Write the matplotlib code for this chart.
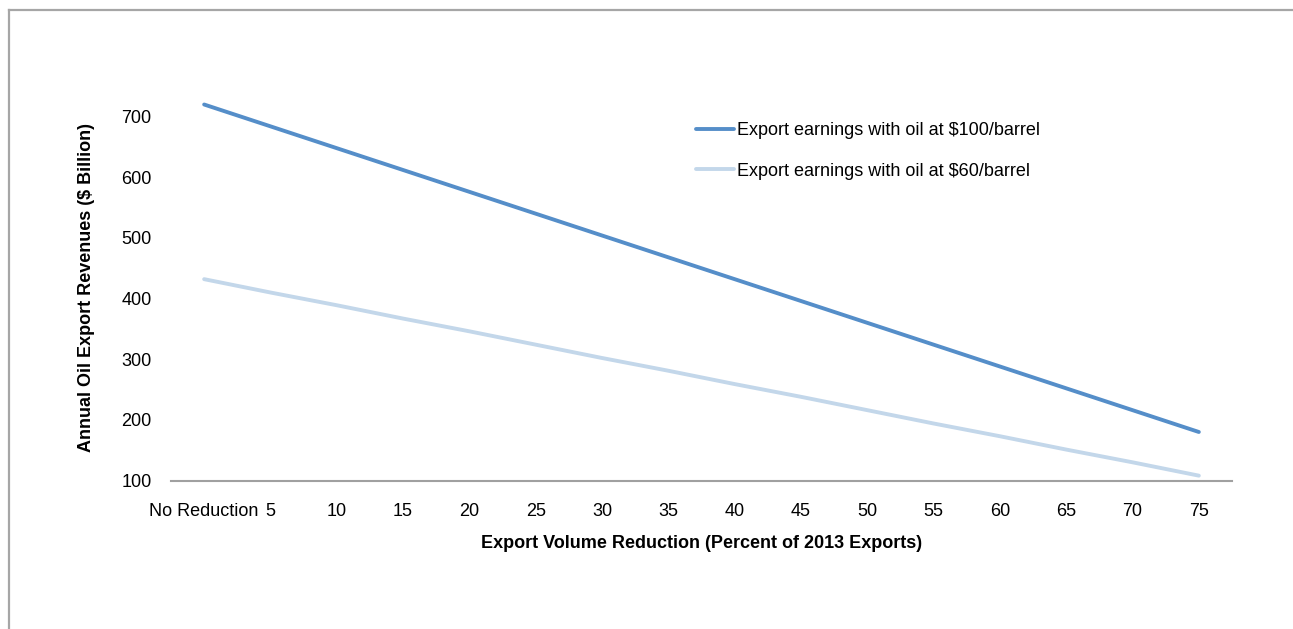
import matplotlib.pyplot as plt
from matplotlib.lines import Line2D

plt.rcParams['font.family'] = ['Liberation Sans', 'DejaVu Sans']

# Категории (сокращение экспорта, %)
categories = ['No Reduction', '5', '10', '15', '20', '25', '30', '35',
              '40', '45', '50', '55', '60', '65', '70', '75']

# Доходы от экспорта, $ млрд
earn_100 = [720, 684, 648, 612, 576, 540, 504, 468,
            432, 396, 360, 324, 288, 252, 216, 180]
earn_60 = [432, 410, 389, 367, 346, 324, 302, 281,
           259, 238, 216, 194, 173, 151, 130, 108]

yticks = [100, 200, 300, 400, 500, 600, 700]

W, H = 1293, 629
fig = plt.figure(figsize=(W / 100, H / 100), dpi=100)

# Рамка вокруг рисунка (верх и лево)
fig.add_artist(Line2D([9 / W, 1], [1 - 10 / H, 1 - 10 / H], color='#a6a6a6', lw=1.6))
fig.add_artist(Line2D([9 / W, 9 / W], [0, 1 - 10 / H], color='#a6a6a6', lw=1.6))

# Область графика в пикселях
x0, x1, y0, y1 = 171, 1232, 480.5, 56
ax = fig.add_axes([x0 / W, 1 - y0 / H, (x1 - x0) / W, (y0 - y1) / H])

x = list(range(len(categories)))
ax.plot(x, earn_100, color='#558ec9', lw=2.8, solid_capstyle='round',
        label='Export earnings with oil at $100/barrel', clip_on=False)
ax.plot(x, earn_60, color='#c3d7ea', lw=2.8, solid_capstyle='round',
        label='Export earnings with oil at $60/barrel', clip_on=False)

ax.set_xlim(-0.5, len(categories) - 0.5)
ax.set_ylim(100, 800)
ax.set_xticks(x)
ax.set_xticklabels(categories)
ax.set_yticks(yticks)
ax.tick_params(axis='both', length=0, labelsize=13)
ax.tick_params(axis='x', pad=16)
ax.tick_params(axis='y', pad=14)

for s in ['top', 'right', 'left']:
    ax.spines[s].set_visible(False)
ax.spines['bottom'].set_color('#a0a0a0')
ax.spines['bottom'].set_linewidth(1.5)

ax.set_ylabel('Annual Oil Export Revenues ($ Billion)', fontsize=13, fontweight='bold',
              va='center')
ax.yaxis.set_label_coords((87 - x0) / (x1 - x0), (y0 - 288) / (y0 - y1))
ax.set_xlabel('Export Volume Reduction (Percent of 2013 Exports)', fontsize=13,
              fontweight='bold', va='center')
ax.xaxis.set_label_coords((701.5 - x0) / (x1 - x0), -(543 - y0) / (y0 - y1))

ax.legend(loc='upper left', bbox_to_anchor=(696 / W, 1 - 122 / H),
          bbox_transform=fig.transFigure, frameon=False, fontsize=13,
          handlelength=2.1, handletextpad=0.15, labelspacing=1.31,
          borderpad=0, borderaxespad=0)

fig.savefig('out.png', dpi=100)
